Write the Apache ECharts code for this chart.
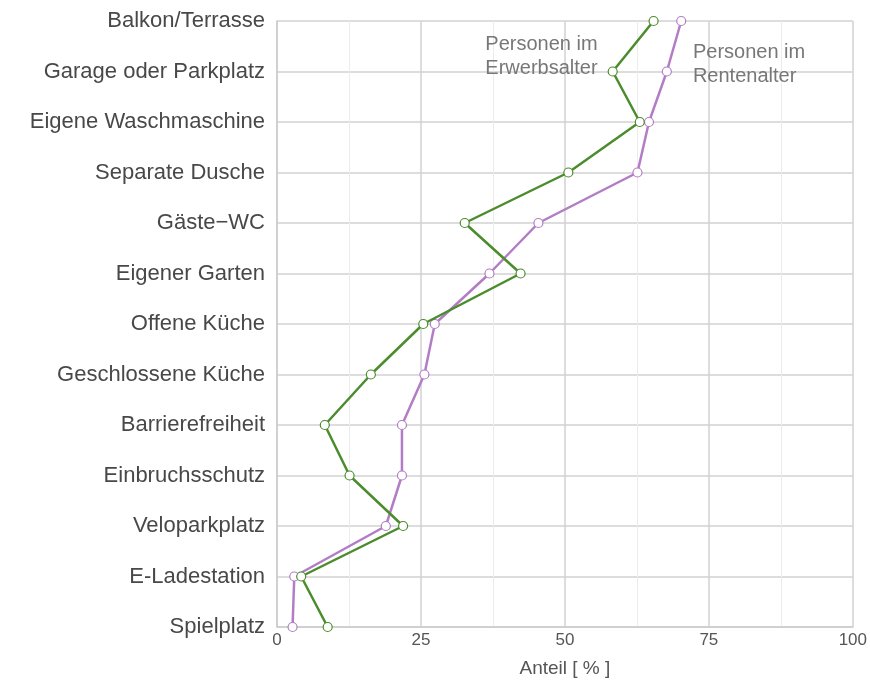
<!DOCTYPE html>
<html>
<head>
<meta charset="utf-8">
<script src="https://cdn.jsdelivr.net/npm/echarts@6/dist/echarts.min.js"></script>
<style>
  html, body { margin: 0; padding: 0; background: #fff; }
  #chart { width: 870px; height: 683px; }
</style>
</head>
<body>
<div id="chart"></div>
<script>
  // categories, top to bottom
  var categories = ['Balkon/Terrasse', 'Garage oder Parkplatz', 'Eigene Waschmaschine', 'Separate Dusche',
    'Gäste\u2212WC', 'Eigener Garten', 'Offene Küche', 'Geschlossene Küche', 'Barrierefreiheit',
    'Einbruchsschutz', 'Veloparkplatz', 'E-Ladestation', 'Spielplatz']
  var erwerbsalter = [65.4, 58.3, 63.0, 50.6, 32.6, 42.3, 25.4, 16.3, 8.3, 12.6, 21.9, 4.2, 8.8]
  var rentenalter = [70.2, 67.7, 64.6, 62.6, 45.4, 36.9, 27.4, 25.6, 21.7, 21.7, 18.9, 3.0, 2.7]
  var xTicks = [0, 25, 50, 75, 100]

  var green = '#4b8c2c'
  var purple = '#b37dc6'
  var font = '"Liberation Sans", Arial, sans-serif'

  // put the series name as a label next to one point
  function withLabel (values, idx, text, pos, offset) {
    return values.map(function (v, i) {
      if (i !== idx) return v
      return {
        value: v,
        label: {
          show: true,
          formatter: text,
          position: pos,
          offset: offset,
          color: '#777',
          fontFamily: font,
          fontSize: 20,
          lineHeight: 24
        }
      }
    })
  }

  var myChart = echarts.init(document.getElementById('chart'))
  myChart.setOption({
    animation: false,
    textStyle: { fontFamily: font },
    grid: { left: 277, right: 17, top: 21, bottom: 55 },
    xAxis: {
      type: 'value',
      min: 0,
      max: 100,
      interval: 25,
      name: 'Anteil [ % ]',
      nameLocation: 'middle',
      nameGap: 32,
      nameTextStyle: { color: '#555', fontSize: 19, fontFamily: font },
      axisLine: { show: true, lineStyle: { color: '#ccc', width: 1.5 } },
      axisTick: { show: false },
      axisLabel: {
        color: '#555',
        fontSize: 17,
        margin: 5,
        formatter: function (v) { return xTicks.indexOf(v) >= 0 ? String(v) : '' }
      },
      splitLine: { show: true, lineStyle: { color: '#d2d2d2', width: 1.5 } },
      minorTick: { show: false, splitNumber: 2 },
      minorSplitLine: { show: true, lineStyle: { color: '#ececec', width: 1 } }
    },
    yAxis: {
      type: 'category',
      data: categories,
      inverse: true,
      boundaryGap: false,
      axisLine: { show: true, lineStyle: { color: '#ccc', width: 1.5 } },
      axisTick: { show: false },
      axisLabel: { color: '#484848', fontSize: 22, margin: 12, fontFamily: font },
      splitLine: { show: true, lineStyle: { color: '#d2d2d2', width: 1.5 } }
    },
    series: [
      {
        name: 'Personen im Erwerbsalter',
        type: 'line',
        data: withLabel(erwerbsalter, 1, 'Personen im\nErwerbsalter', 'left', [-5, -15]),
        symbol: 'circle',
        symbolSize: 9,
        lineStyle: { color: green, width: 2.5 },
        itemStyle: { color: '#fff', borderColor: green, borderWidth: 1.2 },
        z: 3
      },
      {
        name: 'Personen im Rentenalter',
        type: 'line',
        data: withLabel(rentenalter, 1, 'Personen im\nRentenalter', 'right', [16, -7]),
        symbol: 'circle',
        symbolSize: 9,
        lineStyle: { color: purple, width: 2.5 },
        itemStyle: { color: '#fff', borderColor: purple, borderWidth: 1.2 },
        z: 2
      }
    ]
  })
</script>
</body>
</html>
